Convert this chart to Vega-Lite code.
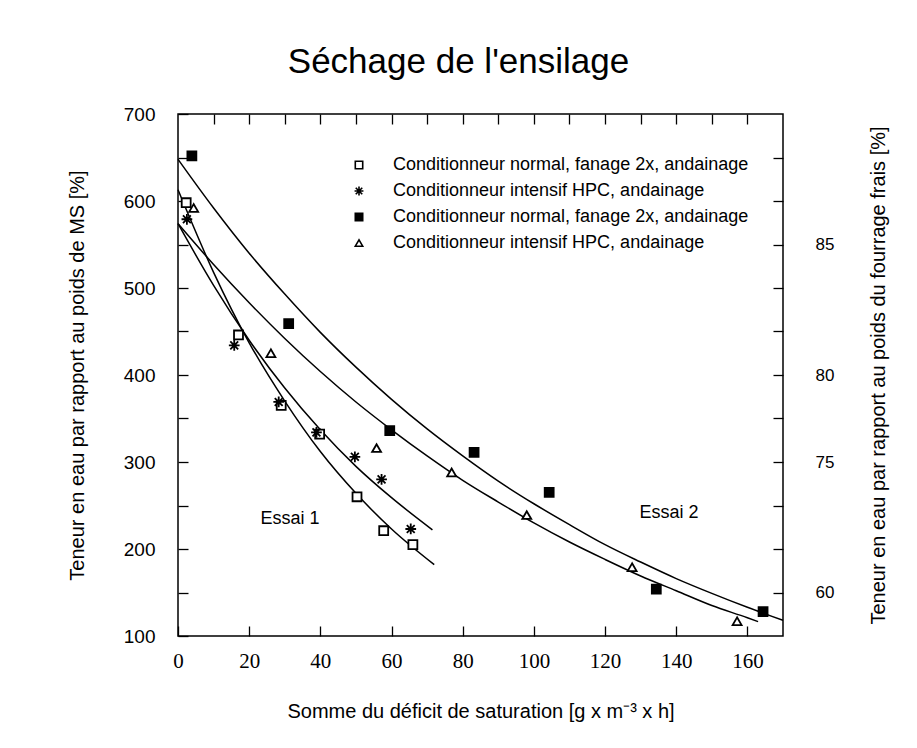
{
  "$schema": "https://vega.github.io/schema/vega-lite/v6.json",
  "width": 605,
  "height": 522,
  "autosize": {"type": "none"},
  "padding": {"left": 178, "top": 114, "right": 134, "bottom": 112},
  "background": "white",
  "title": {
    "text": "Séchage de l'ensilage",
    "font": "Liberation Sans",
    "fontSize": 35,
    "fontWeight": "normal",
    "color": "black",
    "anchor": "middle",
    "frame": "group",
    "dx": -22,
    "offset": 25
  },
  "config": {
    "view": {"stroke": "black", "strokeWidth": 1.5},
    "font": "Liberation Sans",
    "legend": {"symbolStrokeColor": "black", "symbolStrokeWidth": 1.6}
  },
  "datasets": {
    "points": [
      {"series": "E1 normal", "x": 2.3, "y": 598},
      {"series": "E1 normal", "x": 17, "y": 446},
      {"series": "E1 normal", "x": 29, "y": 365},
      {"series": "E1 normal", "x": 39.8, "y": 332},
      {"series": "E1 normal", "x": 50.3, "y": 260},
      {"series": "E1 normal", "x": 57.8, "y": 221},
      {"series": "E1 normal", "x": 66, "y": 205},
      {"series": "E1 HPC", "x": 2.5, "y": 579},
      {"series": "E1 HPC", "x": 15.8, "y": 434},
      {"series": "E1 HPC", "x": 28.3, "y": 369},
      {"series": "E1 HPC", "x": 38.9, "y": 334},
      {"series": "E1 HPC", "x": 49.7, "y": 306},
      {"series": "E1 HPC", "x": 57.2, "y": 280},
      {"series": "E1 HPC", "x": 65.4, "y": 223},
      {"series": "E2 normal", "x": 3.9, "y": 652},
      {"series": "E2 normal", "x": 31.1, "y": 459},
      {"series": "E2 normal", "x": 59.5, "y": 336},
      {"series": "E2 normal", "x": 83.2, "y": 311},
      {"series": "E2 normal", "x": 104.3, "y": 265},
      {"series": "E2 normal", "x": 134.4, "y": 154},
      {"series": "E2 normal", "x": 164.4, "y": 128},
      {"series": "E2 HPC", "x": 4.4, "y": 592},
      {"series": "E2 HPC", "x": 26.1, "y": 425},
      {"series": "E2 HPC", "x": 55.8, "y": 316},
      {"series": "E2 HPC", "x": 76.9, "y": 288},
      {"series": "E2 HPC", "x": 98, "y": 239},
      {"series": "E2 HPC", "x": 127.6, "y": 179},
      {"series": "E2 HPC", "x": 157.1, "y": 117}
    ],
    "curves": [
      {"curve": "A", "x": 0, "y": 613},
      {"curve": "A", "x": 10, "y": 518},
      {"curve": "A", "x": 20, "y": 437},
      {"curve": "A", "x": 30, "y": 370},
      {"curve": "A", "x": 40, "y": 312},
      {"curve": "A", "x": 50, "y": 264},
      {"curve": "A", "x": 60, "y": 223},
      {"curve": "A", "x": 72, "y": 182},
      {"curve": "B", "x": 0, "y": 574},
      {"curve": "B", "x": 10, "y": 503},
      {"curve": "B", "x": 20, "y": 440},
      {"curve": "B", "x": 30, "y": 385},
      {"curve": "B", "x": 40, "y": 337},
      {"curve": "B", "x": 50, "y": 295},
      {"curve": "B", "x": 60, "y": 259},
      {"curve": "B", "x": 71.5, "y": 222},
      {"curve": "C", "x": 0, "y": 648},
      {"curve": "C", "x": 10, "y": 592},
      {"curve": "C", "x": 20, "y": 540},
      {"curve": "C", "x": 30, "y": 493},
      {"curve": "C", "x": 40, "y": 449},
      {"curve": "C", "x": 50, "y": 409},
      {"curve": "C", "x": 60, "y": 372},
      {"curve": "C", "x": 70, "y": 338},
      {"curve": "C", "x": 80, "y": 307},
      {"curve": "C", "x": 90, "y": 278},
      {"curve": "C", "x": 100, "y": 252},
      {"curve": "C", "x": 110, "y": 228},
      {"curve": "C", "x": 120, "y": 205},
      {"curve": "C", "x": 130, "y": 185},
      {"curve": "C", "x": 140, "y": 166},
      {"curve": "C", "x": 150, "y": 149},
      {"curve": "C", "x": 160, "y": 133},
      {"curve": "C", "x": 170, "y": 118},
      {"curve": "D", "x": 0, "y": 574},
      {"curve": "D", "x": 10, "y": 527},
      {"curve": "D", "x": 20, "y": 483},
      {"curve": "D", "x": 30, "y": 442},
      {"curve": "D", "x": 40, "y": 404},
      {"curve": "D", "x": 50, "y": 369},
      {"curve": "D", "x": 60, "y": 337},
      {"curve": "D", "x": 70, "y": 307},
      {"curve": "D", "x": 80, "y": 279},
      {"curve": "D", "x": 90, "y": 254},
      {"curve": "D", "x": 100, "y": 230},
      {"curve": "D", "x": 110, "y": 208},
      {"curve": "D", "x": 120, "y": 188},
      {"curve": "D", "x": 130, "y": 169},
      {"curve": "D", "x": 140, "y": 152},
      {"curve": "D", "x": 150, "y": 135},
      {"curve": "D", "x": 160, "y": 121},
      {"curve": "D", "x": 163, "y": 116.5}
    ],
    "notes": [
      {"x": 31.5, "y": 235, "label": "Essai 1"},
      {"x": 138, "y": 241, "label": "Essai 2"}
    ]
  },
  "layer": [
    {
      "layer": [
        {
          "data": {"name": "curves"},
          "mark": {"type": "line", "interpolate": "monotone", "color": "black", "strokeWidth": 1.5},
          "encoding": {
            "x": {
              "field": "x", "type": "quantitative",
              "scale": {"domain": [0, 170], "nice": false, "zero": false},
              "axis": {
                "orient": "bottom",
                "values": [0, 10, 20, 30, 40, 50, 60, 70, 80, 90, 100, 110, 120, 130, 140, 150, 160],
                "labelExpr": "datum.value % 20 === 0 ? datum.label : ''",
                "grid": false, "domain": false,
                "tickSize": -10, "tickColor": "black", "tickWidth": 1.3,
                "labelPadding": 24, "labelFlush": false,
                "labelFont": "Liberation Sans Narrow", "labelFontSize": 21, "labelColor": "black",
                "title": "Somme du déficit de saturation [g x m⁻³ x h]",
                "titleFont": "Liberation Sans", "titleFontSize": 20, "titleFontWeight": "normal",
                "titleColor": "black", "titlePadding": 30
              }
            },
            "y": {
              "field": "y", "type": "quantitative",
              "scale": {"domain": [100, 700], "nice": false, "zero": false},
              "axis": {
                "orient": "left",
                "values": [100, 150, 200, 250, 300, 350, 400, 450, 500, 550, 600, 650, 700],
                "labelExpr": "datum.value % 100 === 0 ? datum.label : ''",
                "grid": false, "domain": false,
                "tickSize": -10, "tickColor": "black", "tickWidth": 1.3,
                "labelPadding": 33, "labelFlush": false,
                "labelFont": "Liberation Sans", "labelFontSize": 19, "labelColor": "black",
                "title": "Teneur en eau par rapport au poids de MS [%]",
                "titleFont": "Liberation Sans", "titleFontSize": 20, "titleFontWeight": "normal",
                "titleColor": "black", "titlePadding": 36
              }
            },
            "detail": {"field": "curve", "type": "nominal"}
          }
        },
        {
          "data": {"name": "points"},
          "mark": {"type": "point", "strokeWidth": 1.8, "size": 80, "opacity": 1},
          "encoding": {
            "x": {"field": "x", "type": "quantitative"},
            "y": {"field": "y", "type": "quantitative"},
            "shape": {
              "field": "series", "type": "nominal",
              "scale": {
                "domain": ["E1 normal", "E1 HPC", "E2 normal", "E2 HPC"],
                "range": ["square", "M-1.2,0L1.2,0M0,-1.2L0,1.2M-0.88,-0.88L0.88,0.88M-0.88,0.88L0.88,-0.88", "square", "triangle-up"]
              },
              "legend": {
                "title": null, "orient": "none", "legendX": 172, "legendY": 42,
                "labelExpr": "datum.value == 'E1 HPC' || datum.value == 'E2 HPC' ? 'Conditionneur intensif HPC, andainage' : 'Conditionneur normal, fanage 2x, andainage'",
                "labelFont": "Liberation Sans", "labelFontSize": 18, "labelColor": "black", "labelLimit": 600,
                "labelOffset": 25, "rowPadding": 8, "padding": 0,
                "symbolSize": 55, "symbolStrokeWidth": 1.6
              }
            },
            "fill": {
              "field": "series", "type": "nominal",
              "scale": {
                "domain": ["E1 normal", "E1 HPC", "E2 normal", "E2 HPC"],
                "range": ["white", "black", "black", "white"]
              },
              "legend": {
                "title": null, "orient": "none", "legendX": 172, "legendY": 42,
                "labelExpr": "datum.value == 'E1 HPC' || datum.value == 'E2 HPC' ? 'Conditionneur intensif HPC, andainage' : 'Conditionneur normal, fanage 2x, andainage'",
                "labelFont": "Liberation Sans", "labelFontSize": 18, "labelColor": "black", "labelLimit": 600,
                "labelOffset": 25, "rowPadding": 8, "padding": 0,
                "symbolSize": 55, "symbolStrokeWidth": 1.6
              }
            },
            "stroke": {
              "field": "series", "type": "nominal",
              "scale": {
                "domain": ["E1 normal", "E1 HPC", "E2 normal", "E2 HPC"],
                "range": ["black", "black", "black", "black"]
              },
              "legend": {
                "title": null, "orient": "none", "legendX": 172, "legendY": 42,
                "labelExpr": "datum.value == 'E1 HPC' || datum.value == 'E2 HPC' ? 'Conditionneur intensif HPC, andainage' : 'Conditionneur normal, fanage 2x, andainage'",
                "labelFont": "Liberation Sans", "labelFontSize": 18, "labelColor": "black", "labelLimit": 600,
                "labelOffset": 25, "rowPadding": 8, "padding": 0,
                "symbolSize": 55, "symbolStrokeWidth": 1.6
              }
            }
          }
        },
        {
          "data": {"name": "notes"},
          "mark": {"type": "text", "font": "Liberation Sans", "fontSize": 18, "color": "black"},
          "encoding": {
            "x": {"field": "x", "type": "quantitative"},
            "y": {"field": "y", "type": "quantitative"},
            "text": {"field": "label"}
          }
        }
      ]
    },
    {
      "data": {"name": "points"},
      "mark": {"type": "point", "opacity": 0},
      "encoding": {
        "x": {
          "field": "x", "type": "quantitative",
          "scale": {"domain": [0, 170], "nice": false, "zero": false},
          "axis": {
            "orient": "top",
            "values": [10, 20, 30, 40, 50, 60, 70, 80, 90, 100, 110, 120, 130, 140, 150, 160],
            "labels": false, "grid": false, "domain": false,
            "tickSize": -10, "tickColor": "black", "tickWidth": 1.3,
            "title": null
          }
        },
        "y": {
          "field": "y", "type": "quantitative",
          "scale": {"domain": [100, 700], "nice": false, "zero": false},
          "axis": {
            "orient": "right",
            "values": [150, 200, 250, 300, 350, 400, 450, 500, 550, 600, 650],
            "labelExpr": "datum.value == 550 ? '85' : datum.value == 400 ? '80' : datum.value == 300 ? '75' : datum.value == 150 ? '60' : ''",
            "grid": false, "domain": false,
            "tickSize": -10, "tickColor": "black", "tickWidth": 1.3,
            "labelPadding": 42, "labelFlush": false,
            "labelFont": "Liberation Sans", "labelFontSize": 17, "labelColor": "black",
            "title": "Teneur en eau par rapport au poids du fourrage frais [%]",
            "titleAngle": 270,
            "titleFont": "Liberation Sans", "titleFontSize": 20, "titleFontWeight": "normal",
            "titleColor": "black", "titlePadding": 55
          }
        }
      }
    }
  ],
  "resolve": {"scale": {"x": "independent", "y": "independent"}}
}
